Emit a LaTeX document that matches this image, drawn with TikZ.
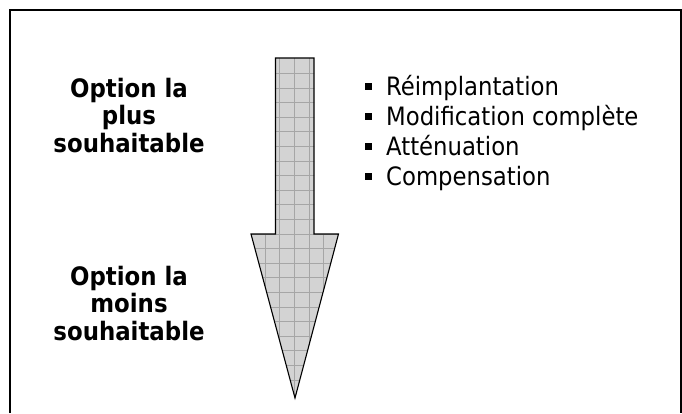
\documentclass[tikz,border=0pt]{standalone}
\usepackage{fontspec}
\IfFontExistsTF{DejaVu Sans Condensed}{%
  \setmainfont{DejaVu Sans Condensed}[BoldFont={DejaVu Sans Condensed Bold}]%
  \def\regsize{25.3}\def\boldsize{25.4}%
}{%
  \setmainfont{Liberation Sans}%
  \def\regsize{26}\def\boldsize{26.5}%
}
\definecolor{arrowfill}{HTML}{D3D3D3}
\definecolor{gridcol}{HTML}{A6A6A6}
\tikzset{
  frameline/.style={line width=2pt, black},
  arrowoutline/.style={draw=black, line width=1.1pt, line join=miter},
  gridline/.style={gridcol, line width=0.7pt},
  boldlabel/.style={anchor=base, inner sep=0pt, font=\bfseries\fontsize{\boldsize}{28}\selectfont},
  bulletitem/.style={anchor=base west, inner sep=0pt, font=\fontsize{\regsize}{30}\selectfont},
}
\newcommand{\sqbullet}{\rule[5.5pt]{7pt}{7pt}\hspace{14pt}}
\begin{document}
\begin{tikzpicture}[x=1pt,y=-1pt]
\useasboundingbox (0,0) rectangle (682,413);
% frame
\coordinate (fbl) at (10,413);
\coordinate (ftl) at (10,10);
\coordinate (ftr) at (681,10);
\coordinate (fbr) at (681,413);
\draw[frameline] (fbl) -- (ftl) -- (ftr) -- (fbr);
% arrow
\def\arrowpath{(275.5,58) -- (314,58) -- (314,234) -- (338.5,234) -- (295,398) -- (251,234) -- (275.5,234) -- cycle}
\fill[arrowfill] \arrowpath;
\begin{scope}
  \clip \arrowpath;
  \foreach \i in {-3,...,3} {
    \draw[gridline] (294.3+\i*14.6,50) -- (294.3+\i*14.6,405);
  }
  \foreach \j in {0,...,23} {
    \draw[gridline] (240,73.3+\j*14.6) -- (350,73.3+\j*14.6);
  }
\end{scope}
\draw[arrowoutline] \arrowpath;
% left labels
\node[boldlabel] (top1) at (129,97) {Option la};
\node[boldlabel] (top2) at (129,124.5) {plus};
\node[boldlabel] (top3) at (129,152) {souhaitable};
\node[boldlabel] (bot1) at (129,285) {Option la};
\node[boldlabel] (bot2) at (129,312.5) {moins};
\node[boldlabel] (bot3) at (129,340) {souhaitable};
% bullet list
\node[bulletitem] (b1) at (365,95) {\sqbullet Réimplantation};
\node[bulletitem] (b2) at (365,125) {\sqbullet Modification complète};
\node[bulletitem] (b3) at (365,155) {\sqbullet Atténuation};
\node[bulletitem] (b4) at (365,185) {\sqbullet Compensation};
\end{tikzpicture}
\end{document}
